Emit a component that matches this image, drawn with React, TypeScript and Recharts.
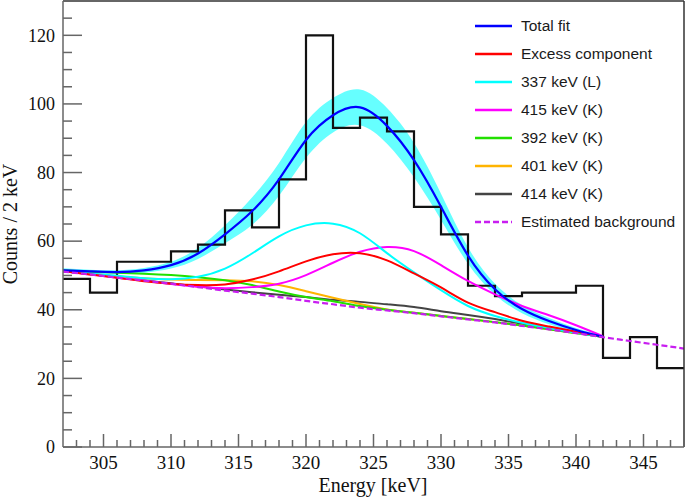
import React from "react";
import { ComposedChart, Line, Area, XAxis, YAxis, Legend, ReferenceLine } from "recharts";

// bin edges of the 2 keV histogram (keV); fit curves are sampled on the same grid
const edges = [302, 304, 306, 308, 310, 312, 314, 316, 318, 320, 322, 324, 326, 328, 330, 332, 334, 336, 338, 340, 342, 344, 346, 348];
const counts = [49, 45, 54, 54, 57, 59, 69, 64, 78, 120, 93, 96, 92, 70, 62, 47, 44, 45, 45, 47, 26, 32, 23];

// fit range 302..342 keV
const totalFit = [51.5, 51.2, 51.0, 51.5, 53.0, 56.4, 62.0, 68.7, 78.0, 89.5, 96.7, 99.0, 93.6, 83.6, 70.0, 55.8, 46.0, 40.2, 36.7, 34.1, 32.1];
const fitErr = [0.6, 0.5, 0.5, 0.7, 1.0, 1.6, 2.6, 4.0, 4.8, 5.2, 5.0, 5.2, 5.2, 5.0, 3.8, 2.4, 1.6, 1.2, 0.9, 0.6, 0.4];
const excess = [51.3, 50.3, 49.3, 48.3, 47.6, 47.2, 47.4, 48.8, 51.2, 54.1, 56.2, 56.5, 54.4, 50.6, 46.5, 42.1, 39.3, 36.8, 35.1, 33.6, 32.1];
const l337 = [51.4, 50.6, 49.9, 49.2, 48.9, 49.6, 52.0, 56.4, 61.4, 64.6, 65.1, 62.3, 56.5, 50.9, 45.7, 41.1, 38.2, 36.2, 34.7, 33.3, 32.1];
const k415 = [51.2, 50.3, 49.4, 48.5, 47.5, 46.7, 46.3, 46.6, 47.6, 50.1, 53.7, 56.9, 58.3, 57.1, 53.0, 48.4, 44.5, 41.1, 38.4, 35.5, 32.3];
const k392 = [51.5, 51.1, 50.8, 50.5, 50.1, 49.5, 48.6, 47.2, 45.3, 43.7, 42.5, 41.1, 40.0, 39.1, 38.2, 37.3, 36.4, 35.4, 34.3, 33.2, 32.1];
const k401 = [51.4, 50.6, 49.8, 49.2, 48.8, 48.7, 48.6, 48.3, 47.2, 45.4, 43.5, 41.7, 40.1, 39.1, 38.2, 37.3, 36.4, 35.4, 34.3, 33.2, 32.1];
const k414 = [51.2, 50.4, 49.5, 48.6, 47.7, 46.8, 45.9, 45.1, 44.4, 43.7, 42.9, 42.3, 41.6, 40.8, 39.6, 38.5, 37.3, 35.9, 34.5, 33.3, 32.1];
const background = [51.1, 50.3, 49.4, 48.5, 47.6, 46.6, 45.6, 44.7, 43.7, 42.6, 41.6, 40.6, 39.8, 39.0, 38.1, 37.2, 36.3, 35.3, 34.3, 33.2, 32.0, 30.9, 29.8, 28.7];

const xTicks = Array.from({ length: 46 }, (_, i) => 303 + i);
const yTicks = Array.from({ length: 26 }, (_, i) => i * 5);

const series = [
  { key: "total", name: "Total fit", color: "#0000ff", values: totalFit },
  { key: "excess", name: "Excess component", color: "#ff0000", values: excess },
  { key: "l337", name: "337 keV (L)", color: "#00ffff", values: l337 },
  { key: "k415", name: "415 keV (K)", color: "#ff00ff", values: k415 },
  { key: "k392", name: "392 keV (K)", color: "#22e000", values: k392 },
  { key: "k401", name: "401 keV (K)", color: "#ffb400", values: k401 },
  { key: "k414", name: "414 keV (K)", color: "#444444", values: k414 },
];
const bgColor = "#c81ef0";

const data = edges.map((e, i) => {
  const row: any = { e, counts: counts[Math.min(i, counts.length - 1)], bg: background[i] };
  series.forEach((s) => {
    row[s.key] = s.values[i] ?? null;
  });
  row.band = totalFit[i] != null ? [totalFit[i] - fitErr[i], totalFit[i] + fitErr[i]] : null;
  return row;
});

const axisColor = "#666";
const serif = "'Liberation Serif', 'Times New Roman', serif";
const sans = "'Liberation Sans', Arial, sans-serif";

const XTick = (props: any) => {
  const { x, y, payload } = props;
  const v = payload.value;
  const major = v % 5 === 0;
  return (
    <g>
      <line x1={x} x2={x} y1={y} y2={y - (major ? 13 : 7)} stroke={axisColor} strokeWidth={1.5} />
      {major && (
        <text x={x} y={y + 22} textAnchor="middle" style={{ fontFamily: serif, fontSize: 19, fill: "#111" }}>
          {v}
        </text>
      )}
    </g>
  );
};

const YTick = (props: any) => {
  const { x, y, payload } = props;
  const v = payload.value;
  const major = v % 20 === 0;
  return (
    <g>
      <line x1={x} x2={x + (major ? 19 : 9)} y1={y} y2={y} stroke={axisColor} strokeWidth={1.5} />
      {major && (
        <text x={x - 8} y={y} dy="0.35em" textAnchor="end" style={{ fontFamily: serif, fontSize: 18, fill: "#111" }}>
          {v}
        </text>
      )}
    </g>
  );
};

const XTitle = () => (
  <text x={373} y={492} textAnchor="middle" style={{ fontFamily: serif, fontSize: 20, fill: "#111" }}>
    Energy [keV]
  </text>
);

const YTitle = () => (
  <text x={10} y={224} transform="rotate(-90, 10, 224)" textAnchor="middle" dominantBaseline="central" style={{ fontFamily: serif, fontSize: 20, fill: "#111" }}>
    Counts / 2 keV
  </text>
);

const LegendBox = () => {
  const items = [...series.map((s) => ({ name: s.name, color: s.color, dash: undefined as string | undefined })), { name: "Estimated background", color: bgColor, dash: "6 3" }];
  return (
    <div style={{ fontFamily: sans, fontSize: 15.5, color: "#1a1a1a" }}>
      {items.map((it) => (
        <div key={it.name} style={{ display: "flex", alignItems: "center", height: 28 }}>
          <svg width={51} height={28}>
            <line x1={5} x2={42} y1={14} y2={14} stroke={it.color} strokeWidth={2.5} strokeDasharray={it.dash} />
          </svg>
          <span>{it.name}</span>
        </div>
      ))}
    </div>
  );
};

export default function App() {
  return (
    <div style={{ position: "absolute", left: 0, top: 0 }}>
      <ComposedChart width={685} height={497} data={data} margin={{ top: 1, right: 1, bottom: 0, left: 0 }}>
        <XAxis
          dataKey="e"
          type="number"
          domain={[302, 348]}
          ticks={xTicks}
          interval={0}
          height={50}
          tickSize={0}
          tickMargin={0}
          tickLine={false}
          tick={<XTick />}
          axisLine={{ stroke: axisColor, strokeWidth: 1.5 }}
          allowDataOverflow
          label={<XTitle />}
        />
        <YAxis
          type="number"
          domain={[0, 130]}
          ticks={yTicks}
          interval={0}
          width={63}
          tickSize={0}
          tickMargin={0}
          tickLine={false}
          tick={<YTick />}
          axisLine={{ stroke: axisColor, strokeWidth: 1.5 }}
          allowDataOverflow
          label={<YTitle />}
        />
        <Area dataKey="band" type="natural" stroke="none" fill="#66ffff" fillOpacity={1} isAnimationActive={false} />
        <Line dataKey="counts" type="stepAfter" stroke="#111" strokeWidth={2.2} dot={false} activeDot={false} isAnimationActive={false} />
        {series
          .slice(1)
          .reverse()
          .map((s) => (
            <Line key={s.key} dataKey={s.key} type="natural" stroke={s.color} strokeWidth={2} dot={false} activeDot={false} isAnimationActive={false} />
          ))}
        <Line dataKey="total" type="natural" stroke="#0000ff" strokeWidth={2.2} dot={false} activeDot={false} isAnimationActive={false} />
        <Line dataKey="bg" type="monotone" stroke={bgColor} strokeWidth={2.2} strokeDasharray="6 3" dot={false} activeDot={false} isAnimationActive={false} />
        <ReferenceLine y={130} stroke="#333" strokeWidth={1.5} />
        <ReferenceLine x={348} stroke="#333" strokeWidth={1.5} />
        <Legend
          layout="horizontal"
          verticalAlign="middle"
          align="center"
          content={<LegendBox />}
          wrapperStyle={{ position: "absolute", top: 12, left: 470, width: 215, height: 230 }}
        />
      </ComposedChart>
    </div>
  );
}
